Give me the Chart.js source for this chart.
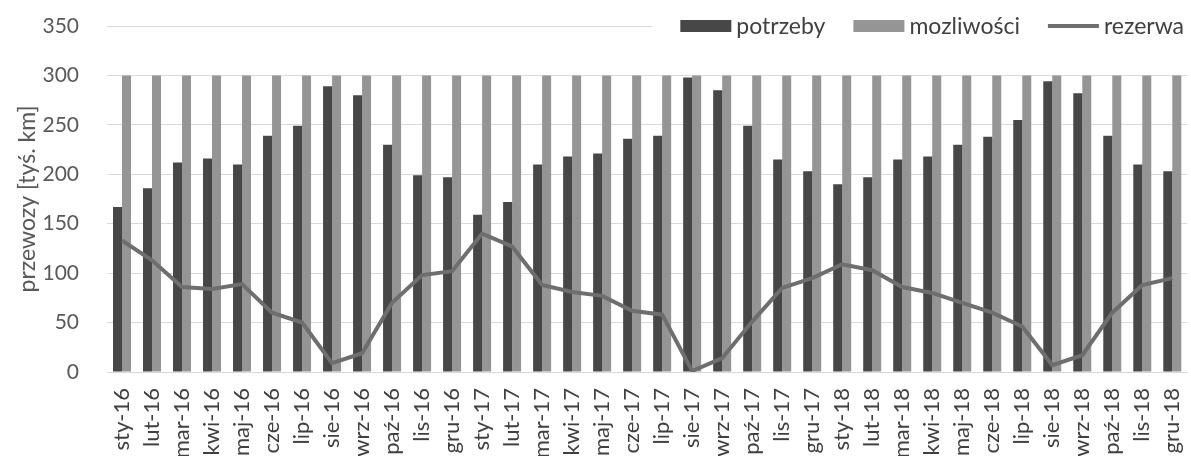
<!DOCTYPE html>
<html>
<head>
<meta charset="utf-8">
<script src="https://cdn.jsdelivr.net/npm/chart.js@4/dist/chart.umd.min.js"></script>
<style>
  html, body { margin: 0; padding: 0; background: #fff; }
  #wrap { width: 1191px; height: 456px; position: relative; }
</style>
</head>
<body>
<div id="wrap"><canvas id="chart" width="1191" height="456"></canvas></div>
<script>
const months = [
  'sty-16', 'lut-16', 'mar-16', 'kwi-16', 'maj-16', 'cze-16', 'lip-16', 'sie-16', 'wrz-16', 'paź-16', 'lis-16', 'gru-16',
  'sty-17', 'lut-17', 'mar-17', 'kwi-17', 'maj-17', 'cze-17', 'lip-17', 'sie-17', 'wrz-17', 'paź-17', 'lis-17', 'gru-17',
  'sty-18', 'lut-18', 'mar-18', 'kwi-18', 'maj-18', 'cze-18', 'lip-18', 'sie-18', 'wrz-18', 'paź-18', 'lis-18', 'gru-18'
];
const potrzeby = [
  167, 186, 212, 216, 210, 239, 249, 289, 280, 230, 199, 197,
  159, 172, 210, 218, 221, 236, 239, 298, 285, 249, 215, 203,
  190, 197, 215, 218, 230, 238, 255, 294, 282, 239, 210, 203
];
const mozliwosci = [
  300, 300, 300, 300, 300, 300, 300, 300, 300, 300, 300, 300,
  300, 300, 300, 300, 300, 300, 300, 300, 300, 300, 300, 300,
  300, 300, 300, 300, 300, 300, 300, 300, 300, 300, 300, 300
];
const rezerwa = [
  133, 113, 86, 84, 89, 60, 50, 9, 19, 70, 98, 102,
  140, 127, 88, 81, 77, 62, 58, 1, 14, 51, 85, 95,
  109, 103, 86, 80, 70, 60, 46, 7, 17, 60, 88, 95
];
const yTicks = [0, 50, 100, 150, 200, 250, 300, 350];

const FONT = 'Lato';

// legenda rysowana recznie, zeby nachodzila na linie siatki 350 jak w oryginale
const topLegend = {
  id: 'topLegend',
  afterDraw(chart) {
    const ctx = chart.ctx;
    const items = chart.data.datasets.map(d => ({
      text: d.label,
      color: d.type === 'line' ? d.borderColor : d.backgroundColor,
      line: d.type === 'line'
    }));
    ctx.save();
    ctx.font = '23px ' + FONT;
    const boxW = 51, gap = 5, itemGap = 28, y = 26;
    let widths = items.map(it => boxW + gap + ctx.measureText(it.text).width);
    let total = widths.reduce((a, b) => a + b, 0) + itemGap * (items.length - 1);
    let x = 1184 - total;
    ctx.fillStyle = '#fff';
    ctx.fillRect(x - 28, y - 13, total + 40, 26);
    items.forEach((it, i) => {
      if (it.line) {
        ctx.strokeStyle = it.color;
        ctx.lineWidth = 4;
        ctx.beginPath();
        ctx.moveTo(x, y);
        ctx.lineTo(x + boxW, y);
        ctx.stroke();
      } else {
        ctx.fillStyle = it.color;
        ctx.fillRect(x, y - 6, boxW, 12);
      }
      ctx.fillStyle = '#404040';
      ctx.textBaseline = 'middle';
      ctx.fillText(it.text, x + boxW + gap, y + 1);
      x += widths[i] + itemGap;
    });
    ctx.restore();
  }
};

const ctx = document.getElementById('chart').getContext('2d');
const chart = new Chart(ctx, {
  type: 'bar',
  data: {
    labels: months,
    datasets: [{
      label: 'potrzeby',
      data: potrzeby,
      backgroundColor: '#474747',
      categoryPercentage: 0.6,
      barPercentage: 1.0,
      order: 1
    }, {
      label: 'mozliwości',
      data: mozliwosci,
      backgroundColor: '#959595',
      categoryPercentage: 0.6,
      barPercentage: 1.0,
      order: 1
    }, {
      label: 'rezerwa',
      type: 'line',
      data: rezerwa,
      borderColor: '#6e6e6e',
      borderWidth: 4,
      pointRadius: 0,
      tension: 0,
      order: 0
    }]
  },
  options: {
    responsive: false,
    animation: false,
    layout: { padding: { top: 26, right: 0, left: 0, bottom: 0 } },
    plugins: {
      legend: { display: false },
      tooltip: { enabled: false }
    },
    scales: {
      x: {
        afterFit: axis => { axis.height = 84; },
        grid: { display: true, drawOnChartArea: false, drawTicks: true, tickLength: 16, tickColor: 'rgba(0,0,0,0)' },
        border: { color: '#d9d9d9' },
        ticks: {
          autoSkip: false,
          minRotation: 90,
          maxRotation: 90,
          padding: 0,
          color: '#404040',
          font: { family: FONT, size: 22, lineHeight: 0.85 }
        }
      },
      y: {
        min: 0,
        max: 350,
        afterBuildTicks: axis => { axis.ticks = yTicks.map(v => ({ value: v })); },
        afterFit: axis => { axis.width = 107; },
        grid: { color: '#d9d9d9', drawTicks: true, tickLength: 24, tickColor: 'rgba(0,0,0,0)' },
        border: { display: false },
        ticks: {
          padding: 4,
          color: '#595959',
          font: { family: FONT, size: 21, lineHeight: 1 }
        },
        title: {
          display: true,
          text: 'przewozy [tyś. km]',
          color: '#595959',
          font: { family: FONT, size: 23 },
          padding: { top: 14, bottom: 0 }
        }
      }
    }
  },
  plugins: [topLegend]
});
</script>
</body>
</html>
